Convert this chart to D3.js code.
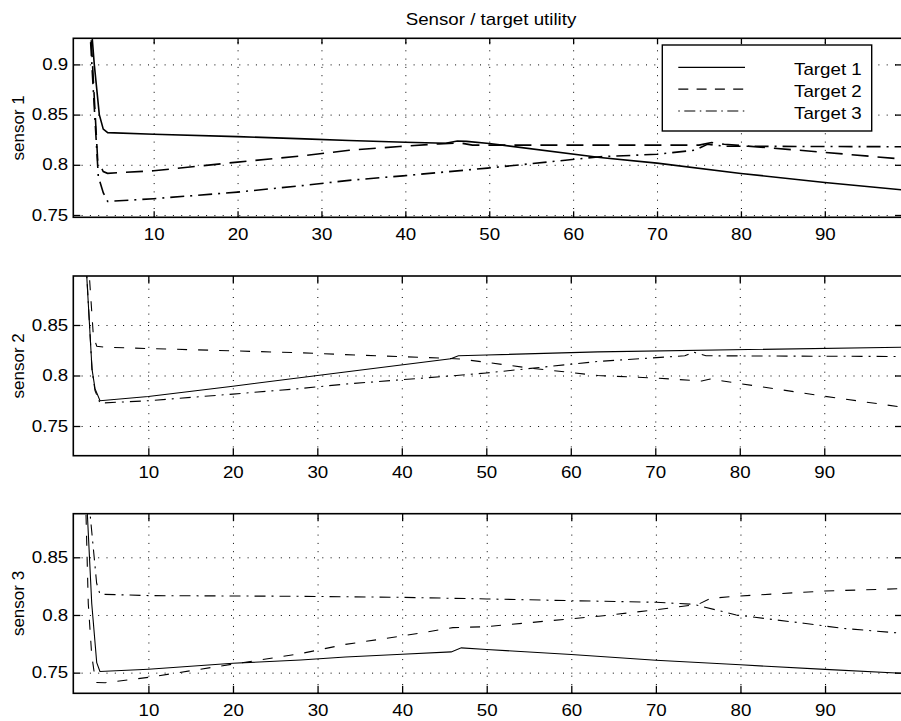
<!DOCTYPE html>
<html>
<head>
<meta charset="utf-8">
<script src="https://cdn.jsdelivr.net/npm/d3@7"></script>
<style>
  html, body { margin: 0; padding: 0; background: #fff; }
  svg { display: block; }
  text { font-family: "Liberation Sans", Arial, Helvetica, sans-serif; fill: #000; }
</style>
</head>
<body>
<svg id="chart" width="901" height="721"></svg>
<script>
// ---------- data ----------
const chartTitle = "Sensor / target utility";
const panelLabels = ["sensor 1", "sensor 2", "sensor 3"];
const seriesNames = ["Target 1", "Target 2", "Target 3"];
const xTicks = [10, 20, 30, 40, 50, 60, 70, 80, 90];
const yTicksP1 = [0.75, 0.8, 0.85, 0.9];
const yTicksP23 = [0.75, 0.8, 0.85];
const xDomains = [[0.42, 99.2], [1.12, 99.2], [1.12, 99.1]];
const yDomains = [[0.7477, 0.926], [0.7206, 0.8985], [0.7321, 0.8878]];

// sensor 1
const s1t1 = [[2.45,0.95],[2.92,0.9],[3.52,0.85],[3.99,0.8355],[4.52,0.832],[10,0.8305],[20,0.8281],[28,0.8258],[33.3,0.8242],[40,0.8225],[44.8,0.8215],[46.2,0.8237],[47.3,0.8233],[50,0.8212],[63.2,0.8073],[70,0.8017],[80,0.7914],[90,0.7824],[99.2,0.775]];
const s1t2 = [[2.4,0.95],[2.9,0.87],[3.33,0.804],[3.99,0.7933],[4.5,0.7915],[10,0.794],[20,0.8027],[28,0.8092],[33.3,0.8145],[39.3,0.8182],[44,0.8208],[46.5,0.8218],[48,0.8196],[75,0.8196],[76.5,0.8222],[78,0.8205],[90,0.8124],[99.2,0.8057]];
const s1t3 = [[2.3,0.95],[2.9,0.86],[3.4,0.7884],[4.0,0.772],[4.52,0.7635],[10,0.7662],[20,0.7728],[28,0.7795],[33.3,0.7845],[39.7,0.789],[49.8,0.7967],[60.4,0.8057],[63.2,0.808],[70,0.8105],[74.5,0.8145],[76,0.8205],[78,0.8185],[99.2,0.818]];
// sensor 2
const s2t1 = [[2.6,0.915],[2.71,0.8985],[3.34,0.806],[3.69,0.787],[4.28,0.775],[10,0.7792],[20,0.7894],[33.3,0.8035],[45.8,0.8166],[46.7,0.8195],[50,0.8203],[63.2,0.8234],[99.2,0.828]];
const s2t2 = [[2.95,0.915],[3.02,0.8985],[3.5,0.8386],[3.9,0.829],[4.9,0.828],[10,0.8267],[20,0.8244],[28,0.8225],[33.3,0.8207],[43,0.8178],[47,0.8163],[55,0.8075],[63.2,0.8],[70,0.7975],[75.5,0.7945],[76.5,0.7965],[78,0.7945],[80,0.792],[90,0.7795],[99.2,0.7687]];
const s2t3 = [[2.6,0.915],[2.72,0.8985],[3.34,0.805],[3.69,0.785],[4.28,0.7727],[10,0.775],[20,0.7816],[28,0.7871],[33.3,0.7915],[46,0.7997],[50,0.8025],[63.2,0.8139],[73.5,0.8195],[74.5,0.8232],[76,0.8195],[99.2,0.8188]];
// sensor 3
const s3t1 = [[2.7,0.905],[2.78,0.8878],[3.3,0.81],[3.89,0.7586],[4.27,0.751],[10,0.753],[20,0.7581],[28,0.761],[33.3,0.7636],[40,0.7659],[45.8,0.768],[47,0.7715],[50,0.7701],[60,0.7658],[70,0.7608],[80,0.7568],[90,0.7528],[99.1,0.7494]];
const s3t2 = [[2.55,0.905],[2.62,0.8878],[2.89,0.81],[3.3,0.765],[3.68,0.7457],[3.9,0.7415],[4.9,0.7413],[10,0.7459],[20,0.7574],[28,0.7665],[33.3,0.7745],[40,0.7818],[46,0.789],[50,0.7899],[63.5,0.7991],[70,0.8045],[75,0.8092],[76.5,0.8145],[80,0.8165],[90,0.8208],[99.1,0.8228]];
const s3t3 = [[3.05,0.9],[3.1,0.8878],[3.88,0.8275],[4.27,0.818],[10,0.8168],[28,0.8162],[40,0.8153],[50,0.8139],[60,0.8124],[70,0.811],[74.5,0.8092],[79.5,0.8],[81.7,0.798],[87.5,0.7928],[92,0.7885],[99.1,0.7841]];

const panelSeries = [[s1t1, s1t2, s1t3], [s2t1, s2t2, s2t3], [s3t1, s3t2, s3t3]];

// ---------- layout / style ----------
const left = 73.3, right = 902;
const panelTB = [[38.3, 217.3], [276, 455.7], [513.7, 693.3]];
const SX = 1.17; // horizontal stretch of the original typography
const lineWidths = [1.6, 1.1, 1.1];
const dashStyles = [
  [null, "17,9", "14,6,2,6"],
  [null, "10,11", "11,6,2,6"],
  [null, "10,11", "11,6,2,6"]
];

const svg = d3.select("#chart");

// title
svg.append("g").attr("transform", "translate(491,25)")
  .append("text").attr("text-anchor", "middle").attr("font-size", 16)
  .attr("transform", `scale(${SX},1)`).text(chartTitle);

panelTB.forEach((tb, i) => {
  const [top, bottom] = tb;
  const x = d3.scaleLinear().domain(xDomains[i]).range([left, right]);
  const y = d3.scaleLinear().domain(yDomains[i]).range([bottom, top]);
  const yTicks = i === 0 ? yTicksP1 : yTicksP23;
  const g = svg.append("g");
  const h = bottom - top, w = right - left;

  // grid
  g.append("g").attr("transform", `translate(0,${bottom})`)
    .call(d3.axisBottom(x).tickValues(xTicks).tickSize(-h).tickFormat(""))
    .call(a => a.select(".domain").remove())
    .call(a => a.selectAll("line").attr("stroke", "#000").attr("stroke-width", 1).attr("stroke-dasharray", "1,7.3"));
  g.append("g").attr("transform", `translate(${left},0)`)
    .call(d3.axisLeft(y).tickValues(yTicks).tickSize(-w).tickFormat(""))
    .call(a => a.select(".domain").remove())
    .call(a => a.selectAll("line").attr("stroke", "#000").attr("stroke-width", 1).attr("stroke-dasharray", "1,7.3"));

  // clip
  const clipId = "clip" + i;
  svg.append("clipPath").attr("id", clipId)
    .append("rect").attr("x", left).attr("y", top).attr("width", w).attr("height", h);

  // lines
  const line = d3.line().x(d => x(d[0])).y(d => y(d[1]));
  panelSeries[i].forEach((s, k) => {
    g.append("path").datum(s)
      .attr("clip-path", `url(#${clipId})`)
      .attr("fill", "none").attr("stroke", "#000")
      .attr("stroke-width", lineWidths[i])
      .attr("stroke-dasharray", dashStyles[i][k])
      .attr("d", line);
  });

  // frame
  g.append("rect").attr("x", left).attr("y", top).attr("width", w).attr("height", h)
    .attr("fill", "none").attr("stroke", "#000").attr("stroke-width", 1.6);

  const tickLen = i === 0 ? 6 : 7.5;
  // bottom axis with labels (inward ticks)
  const xb = g.append("g").attr("transform", `translate(0,${bottom})`)
    .call(d3.axisBottom(x).tickValues(xTicks).tickSizeInner(-tickLen).tickSizeOuter(0).tickPadding(11).tickFormat(d3.format("d")));
  xb.select(".domain").remove();
  xb.selectAll("line").attr("stroke", "#000").attr("stroke-width", 1.3);
  xb.selectAll("text").attr("font-size", 16).attr("font-family", null).attr("fill", "#000")
    .attr("transform", `scale(${SX},1)`);
  // top ticks
  const xt = g.append("g").attr("transform", `translate(0,${top})`)
    .call(d3.axisTop(x).tickValues(xTicks).tickSizeInner(-tickLen).tickSizeOuter(0).tickFormat(""));
  xt.select(".domain").remove();
  xt.selectAll("line").attr("stroke", "#000").attr("stroke-width", 1.3);
  // left axis with labels
  const yl = g.append("g").attr("transform", `translate(${left},0)`)
    .call(d3.axisLeft(y).tickValues(yTicks).tickSizeInner(-7).tickSizeOuter(0).tickPadding(4.3).tickFormat(d => String(d)));
  yl.select(".domain").remove();
  yl.selectAll("line").attr("stroke", "#000").attr("stroke-width", 1.3);
  yl.selectAll("text").attr("font-size", 16).attr("font-family", null).attr("fill", "#000")
    .attr("transform", `scale(${SX},1)`);
  // right ticks
  const yr = g.append("g").attr("transform", `translate(${right},0)`)
    .call(d3.axisRight(y).tickValues(yTicks).tickSizeInner(-7).tickSizeOuter(0).tickFormat(""));
  yr.select(".domain").remove();
  yr.selectAll("line").attr("stroke", "#000").attr("stroke-width", 1.3);

  // y label
  g.append("text")
    .attr("transform", `translate(24,${(top + bottom) / 2}) rotate(-90)`)
    .attr("text-anchor", "middle").attr("font-size", 17)
    .text(panelLabels[i]);
});

// legend
const legend = svg.append("g");
legend.append("rect").attr("x", 662.3).attr("y", 45).attr("width", 209.4).attr("height", 86)
  .attr("fill", "#fff").attr("stroke", "#000").attr("stroke-width", 1.4);
const legendDash = [null, "10,8.3", "1.5,4.5,11,4.5"];
const legendY = d3.scalePoint().domain(seriesNames).range([67.3, 111]);
seriesNames.forEach((name, k) => {
  const ly = legendY(name);
  legend.append("line").attr("x1", 678.3).attr("x2", 745).attr("y1", ly).attr("y2", ly)
    .attr("stroke", "#000").attr("stroke-width", 1.2).attr("stroke-dasharray", legendDash[k]);
  legend.append("g").attr("transform", `translate(861.7,${ly + 7.5})`)
    .append("text").attr("text-anchor", "end").attr("font-size", 16)
    .attr("transform", `scale(${SX},1)`).text(name);
});
</script>
</body>
</html>
